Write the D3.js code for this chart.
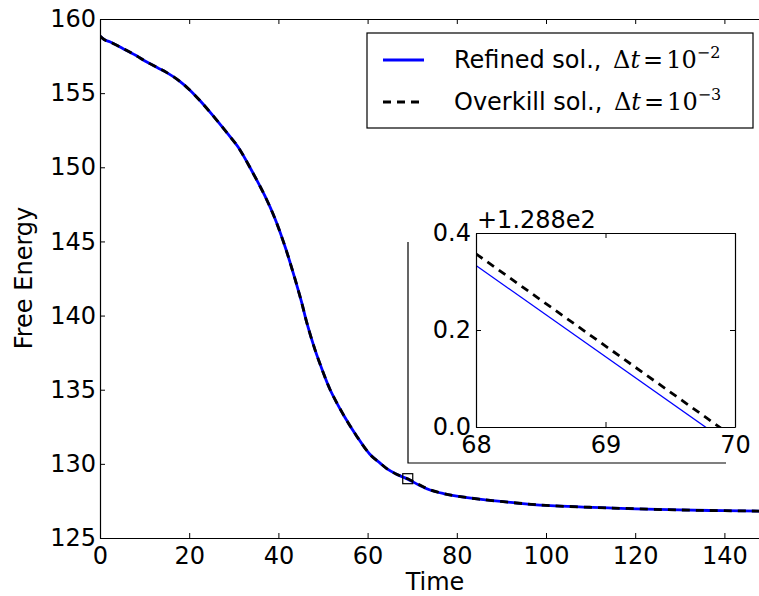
<!DOCTYPE html>
<html>
<head>
<meta charset="utf-8">
<script src="https://cdn.jsdelivr.net/npm/d3@7"></script>
<style>
  body { margin: 0; background: #fff; }
  text { font-family: "DejaVu Sans", sans-serif; fill: #000; }
  .math { font-family: "DejaVu Serif", serif; }
</style>
</head>
<body>
<svg id="chart" width="759" height="596"></svg>
<script>
// main curve
const times = [0, 1, 2.2, 5.2, 8, 10.5, 13, 14.9, 17.9, 20, 22.4, 25, 28.4, 31, 33.6, 37, 39.2, 41.5, 43.3, 45.2, 46.3, 48.2, 50, 51.6, 54.5, 57.6, 60.5, 62.8, 64.3, 66.5, 69, 71.5, 74, 77, 80, 85, 92.7, 100, 115, 130, 140, 150];
const refined = [158.85, 158.6, 158.47, 158.0, 157.55, 157.1, 156.7, 156.4, 155.8, 155.25, 154.5, 153.6, 152.35, 151.35, 150.0, 148.05, 146.56, 144.64, 142.9, 140.9, 139.6, 137.7, 136.2, 135.0, 133.35, 131.85, 130.65, 130.05, 129.68, 129.3, 128.97, 128.58, 128.24, 128.0, 127.83, 127.62, 127.38, 127.2, 127.02, 126.89, 126.84, 126.81];
const overkill = [158.85, 158.6, 158.47, 158.0, 157.55, 157.1, 156.7, 156.4, 155.8, 155.25, 154.5, 153.6, 152.35, 151.35, 150.0, 148.05, 146.56, 144.64, 142.9, 140.9, 139.6, 137.7, 136.2, 135.0, 133.35, 131.85, 130.65, 130.05, 129.68, 129.3, 128.99, 128.6, 128.25, 128.0, 127.83, 127.62, 127.38, 127.2, 127.02, 126.89, 126.84, 126.81];
const xTicks = [0, 20, 40, 60, 80, 100, 120, 140];
const yTicks = [125, 130, 135, 140, 145, 150, 155, 160];

// zoomed window
const zoomTimes = [68, 70];
const zoomRefined = [129.133, 128.757];
const zoomOverkill = [129.157, 128.777];
const zoomOffset = 128.8;
const zoomXTicks = [68, 69, 70];
const zoomYTicks = [128.8, 129.0, 129.2];

const svg = d3.select('#chart');
svg.append('rect').attr('width', 759).attr('height', 596).attr('fill', '#fff');

const x = d3.scaleLinear().domain([0, 150]).range([100, 769]);
const y = d3.scaleLinear().domain([125, 160]).range([538, 19]);

svg.append('defs').append('clipPath').attr('id', 'plot-clip')
  .append('rect').attr('x', 100).attr('y', 19).attr('width', 669).attr('height', 519);

const line = d3.line().x(d => x(d[0])).y(d => y(d[1])).curve(d3.curveCatmullRom.alpha(0.5));
const plot = svg.append('g').attr('clip-path', 'url(#plot-clip)');

plot.append('path')
  .datum(times.map((t, i) => [t, refined[i]]))
  .attr('d', line).attr('fill', 'none')
  .attr('stroke', '#0000ff').attr('stroke-width', 2.8);

plot.append('path')
  .datum(times.map((t, i) => [t, overkill[i]]))
  .attr('d', line).attr('fill', 'none')
  .attr('stroke', '#000').attr('stroke-width', 2.8)
  .attr('stroke-dasharray', '8,6');

// axes (ticks point inward)
function styleAxis(g) {
  g.select('.domain').attr('stroke', '#000').attr('stroke-width', 1.2);
  g.selectAll('.tick line').attr('stroke', '#000').attr('stroke-width', 1);
  g.selectAll('.tick text').attr('font-size', 24).attr('fill', '#000')
    .attr('font-family', '"DejaVu Sans", sans-serif');
}

svg.append('g').attr('transform', 'translate(0,538)')
  .call(d3.axisBottom(x).tickValues(xTicks).tickSizeInner(-5).tickSizeOuter(0).tickPadding(9))
  .call(styleAxis);
svg.append('g').attr('transform', 'translate(0,19)')
  .call(d3.axisTop(x).tickValues(xTicks).tickSizeInner(-5).tickSizeOuter(0).tickFormat(''))
  .call(styleAxis);
svg.append('g').attr('transform', 'translate(100,0)')
  .call(d3.axisLeft(y).tickValues(yTicks).tickSizeInner(-5).tickSizeOuter(0).tickPadding(4))
  .call(styleAxis);

svg.append('text').attr('x', 435).attr('y', 590).attr('text-anchor', 'middle')
  .attr('font-size', 24).text('Time');
svg.append('text').attr('transform', 'translate(32,278) rotate(-90)')
  .attr('text-anchor', 'middle').attr('font-size', 24).text('Free Energy');

// marker of the zoomed window
svg.append('rect')
  .attr('x', x(69) - 5).attr('y', y(129.0) - 5).attr('width', 10).attr('height', 10)
  .attr('fill', 'none').attr('stroke', '#000').attr('stroke-width', 1.2);

// bracket around the inset
svg.append('path').attr('d', 'M408,242V463H726')
  .attr('fill', 'none').attr('stroke', '#000').attr('stroke-width', 1.2);

// inset
const xi = d3.scaleLinear().domain([68, 70]).range([476, 735]);
const yi = d3.scaleLinear().domain([128.8, 129.2]).range([427, 233]);

svg.append('defs').append('clipPath').attr('id', 'inset-clip')
  .append('rect').attr('x', 476).attr('y', 233).attr('width', 259).attr('height', 194);

const insetLine = d3.line().x(d => xi(d[0])).y(d => yi(d[1]));
const inset = svg.append('g').attr('clip-path', 'url(#inset-clip)');
inset.append('path')
  .datum(zoomTimes.map((t, i) => [t, zoomRefined[i]]))
  .attr('d', insetLine).attr('fill', 'none')
  .attr('stroke', '#0000ff').attr('stroke-width', 1.3);
inset.append('path')
  .datum(zoomTimes.map((t, i) => [t, zoomOverkill[i]]))
  .attr('d', insetLine).attr('fill', 'none')
  .attr('stroke', '#000').attr('stroke-width', 2.8)
  .attr('stroke-dasharray', '8,6');

const fmt = d => (d - zoomOffset).toFixed(1);
svg.append('g').attr('transform', 'translate(0,427)')
  .call(d3.axisBottom(xi).tickValues(zoomXTicks).tickSizeInner(-5).tickSizeOuter(0).tickPadding(9).tickFormat(d3.format('d')))
  .call(styleAxis);
svg.append('g').attr('transform', 'translate(0,233)')
  .call(d3.axisTop(xi).tickValues(zoomXTicks).tickSizeInner(-5).tickSizeOuter(0).tickFormat(''))
  .call(styleAxis);
svg.append('g').attr('transform', 'translate(476,0)')
  .call(d3.axisLeft(yi).tickValues(zoomYTicks).tickSizeInner(-5).tickSizeOuter(0).tickPadding(5).tickFormat(fmt))
  .call(styleAxis);
svg.append('g').attr('transform', 'translate(735,0)')
  .call(d3.axisRight(yi).tickValues(zoomYTicks).tickSizeInner(-5).tickSizeOuter(0).tickFormat(''))
  .call(styleAxis);

svg.append('text').attr('x', 477).attr('y', 228).attr('font-size', 24).text('+1.288e2');

// legend
const legend = svg.append('g');
legend.append('rect').attr('x', 367).attr('y', 33).attr('width', 386).attr('height', 95)
  .attr('fill', '#fff').attr('stroke', '#000').attr('stroke-width', 1.2);

const entries = [
  { label: 'Refined sol., ', exp: '\u22122', color: '#0000ff', dash: null },
  { label: 'Overkill sol., ', exp: '\u22123', color: '#000', dash: '8,6' }
];
entries.forEach((e, i) => {
  const cy = 60 + i * 42;
  legend.append('line').attr('x1', 383).attr('x2', 424).attr('y1', cy).attr('y2', cy)
    .attr('stroke', e.color).attr('stroke-width', 2.8)
    .attr('stroke-dasharray', e.dash);
  const t = legend.append('text').attr('x', 454).attr('y', cy + 7.5).attr('font-size', 24);
  t.append('tspan').text(e.label);
  t.append('tspan').attr('class', 'math').attr('dx', 4).text('\u0394');
  t.append('tspan').attr('class', 'math').attr('font-style', 'italic').text('t');
  t.append('tspan').attr('class', 'math').attr('dx', 3).text('=');
  t.append('tspan').attr('class', 'math').attr('dx', 3).text('10');
  t.append('tspan').attr('class', 'math').attr('font-size', 16).attr('dy', -10).text(e.exp);
});
</script>
</body>
</html>
